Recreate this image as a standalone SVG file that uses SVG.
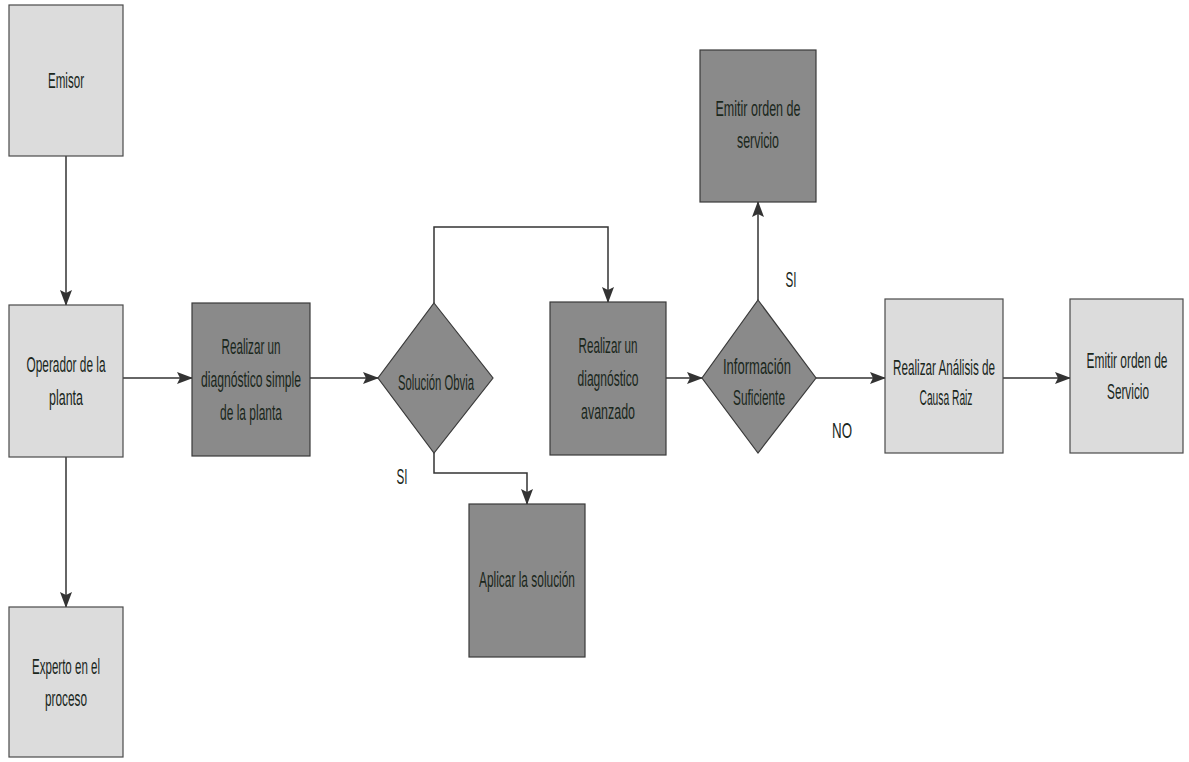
<svg xmlns="http://www.w3.org/2000/svg" width="1189" height="762" viewBox="0 0 1189 762">
<defs>
<style>
.light{fill:#dcdcdc;stroke:#4a4a4a;stroke-width:1.2}
.dark{fill:#8a8a8a;stroke:#3a3a3a;stroke-width:1.2}
.t{font-family:"Liberation Sans",Arial,sans-serif;font-size:22px;fill:#1a271c;text-anchor:middle}
.c{fill:none;stroke:#333;stroke-width:1.5}
</style>
<marker id="ah" viewBox="0 0 16 12" refX="15" refY="6" markerWidth="16" markerHeight="12" markerUnits="userSpaceOnUse" orient="auto">
<path d="M0,0 L16,6 L0,12 L3,6 Z" fill="#333"/>
</marker>
</defs>
<rect width="1189" height="762" fill="#ffffff"/>
<g id="connectors">
<path class="c" d="M66,156 V305" marker-end="url(#ah)"/>
<path class="c" d="M66,457 V607" marker-end="url(#ah)"/>
<path class="c" d="M123,378 H192" marker-end="url(#ah)"/>
<path class="c" d="M310,378 H378" marker-end="url(#ah)"/>
<path class="c" d="M434,303 V227 H608 V302" marker-end="url(#ah)"/>
<path class="c" d="M434,453 V473 H527 V504" marker-end="url(#ah)"/>
<path class="c" d="M666,378 H702" marker-end="url(#ah)"/>
<path class="c" d="M758,300 V202" marker-end="url(#ah)"/>
<path class="c" d="M816,378 H885" marker-end="url(#ah)"/>
<path class="c" d="M1003,378 H1070" marker-end="url(#ah)"/>
<text class="t" x="402" y="484" textLength="11" lengthAdjust="spacingAndGlyphs">SI</text>
<text class="t" x="791" y="287" textLength="11" lengthAdjust="spacingAndGlyphs">SI</text>
<text class="t" x="842" y="438" textLength="20" lengthAdjust="spacingAndGlyphs">NO</text>
</g>
<g id="emisor">
<rect class="light" x="9" y="5" width="114" height="151"/>
<text class="t" x="66" y="88" textLength="36" lengthAdjust="spacingAndGlyphs">Emisor</text>
</g>
<g id="operador">
<rect class="light" x="9" y="305" width="114" height="152"/>
<text class="t" x="66" y="372" textLength="79" lengthAdjust="spacingAndGlyphs">Operador de la</text>
<text class="t" x="66" y="405" textLength="34" lengthAdjust="spacingAndGlyphs">planta</text>
</g>
<g id="experto">
<rect class="light" x="9" y="607" width="114" height="150"/>
<text class="t" x="66" y="674" textLength="68" lengthAdjust="spacingAndGlyphs">Experto en el</text>
<text class="t" x="66" y="706" textLength="42" lengthAdjust="spacingAndGlyphs">proceso</text>
</g>
<g id="diag-simple">
<rect class="dark" x="192" y="303" width="118" height="153"/>
<text class="t" x="251" y="354" textLength="59" lengthAdjust="spacingAndGlyphs">Realizar un</text>
<text class="t" x="251" y="387" textLength="100" lengthAdjust="spacingAndGlyphs">diagnóstico simple</text>
<text class="t" x="251" y="420" textLength="62" lengthAdjust="spacingAndGlyphs">de la planta</text>
</g>
<g id="solucion-obvia">
<polygon class="dark" points="434,303 493,378 434,453 378,378"/>
<text class="t" x="436" y="390" textLength="76" lengthAdjust="spacingAndGlyphs">Solución Obvia</text>
</g>
<g id="aplicar">
<rect class="dark" x="469" y="504" width="116" height="153"/>
<text class="t" x="527" y="587" textLength="96" lengthAdjust="spacingAndGlyphs">Aplicar la solución</text>
</g>
<g id="diag-avanzado">
<rect class="dark" x="550" y="302" width="116" height="153"/>
<text class="t" x="608" y="353" textLength="59" lengthAdjust="spacingAndGlyphs">Realizar un</text>
<text class="t" x="608" y="386" textLength="61" lengthAdjust="spacingAndGlyphs">diagnóstico</text>
<text class="t" x="608" y="419" textLength="54" lengthAdjust="spacingAndGlyphs">avanzado</text>
</g>
<g id="info-suficiente">
<polygon class="dark" points="758,300 816,378 758,453 702,378"/>
<text class="t" x="757" y="374" textLength="68" lengthAdjust="spacingAndGlyphs">Información</text>
<text class="t" x="759" y="405" textLength="52" lengthAdjust="spacingAndGlyphs">Suficiente</text>
</g>
<g id="emitir-orden-top">
<rect class="dark" x="700" y="50" width="116" height="152"/>
<text class="t" x="758" y="116" textLength="85" lengthAdjust="spacingAndGlyphs">Emitir orden de</text>
<text class="t" x="758" y="148" textLength="42" lengthAdjust="spacingAndGlyphs">servicio</text>
</g>
<g id="analisis">
<rect class="light" x="885" y="299" width="118" height="154"/>
<text class="t" x="944" y="375" textLength="102" lengthAdjust="spacingAndGlyphs">Realizar Análisis de</text>
<text class="t" x="946" y="405" textLength="53" lengthAdjust="spacingAndGlyphs">Causa Raiz</text>
</g>
<g id="emitir-orden">
<rect class="light" x="1070" y="299" width="113" height="154"/>
<text class="t" transform="translate(1127,368) scale(0.543,1)" x="0" y="0">Emitir orden de</text>
<text class="t" transform="translate(1128,399) scale(0.537,1)" x="0" y="0">Servicio</text>
</g>
</svg>
